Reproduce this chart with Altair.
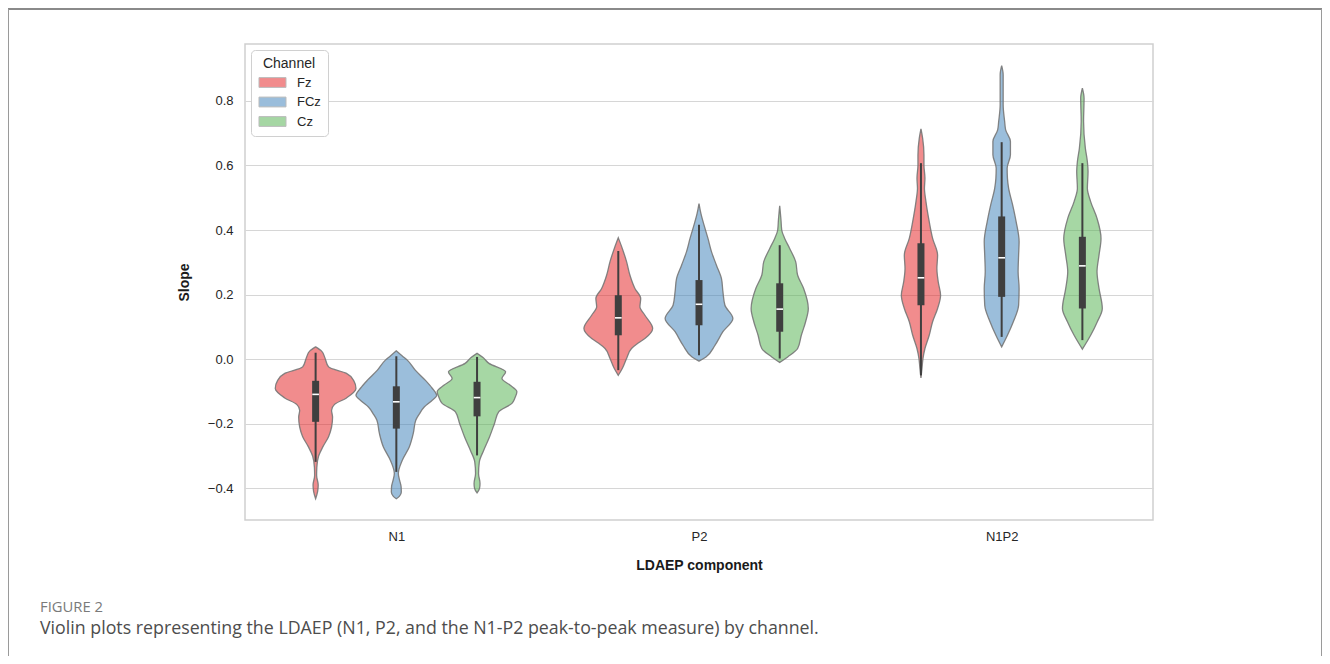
import altair as alt
import pandas as pd

COMPONENTS = ["N1", "P2", "N1P2"]
CHANNELS = ["Fz", "FCz", "Cz"]
COLORS = ["#e41a1c", "#377eb8", "#4daf4a"]

# Violin density profiles (slope value, relative density)
N1_FZ_Y = [0.038, 0.025, 0.007, -0.024, -0.044, -0.065, -0.091, -0.120, -0.140, -0.158,
           -0.180, -0.210, -0.240, -0.270, -0.300, -0.335, -0.360, -0.390, -0.410, -0.432]
N1_FZ_W = [0, 6, 9, 13, 31, 38, 40.5, 31, 19, 16, 17, 16, 13, 7.5, 3, 1.2, 1.0, 2.6, 2.0, 0]

N1_FCZ_Y = [0.026, 0.010, -0.003, -0.034, -0.065, -0.090, -0.112, -0.130, -0.148, -0.170,
            -0.189, -0.230, -0.272, -0.313, -0.354, -0.375, -0.395, -0.411, -0.425, -0.432]
N1_FCZ_W = [0, 6, 11, 19, 29, 36, 40.5, 35, 28, 23, 19.5, 17, 13, 6, 2, 3.3, 4.8, 5, 3, 0]

N1_CZ_Y = [0.018, 0.005, -0.013, -0.039, -0.060, -0.080, -0.101, -0.120, -0.137, -0.163,
           -0.199, -0.241, -0.282, -0.318, -0.354, -0.385, -0.400, -0.414]
N1_CZ_W = [0, 6, 12, 28.7, 25, 33, 40, 38, 35, 21.7, 17.5, 12.5, 6.7, 2.3, 1.5, 3, 2.5, 0]

P2_FZ_Y = [0.376, 0.343, 0.302, 0.260, 0.219, 0.188, 0.162, 0.136, 0.095, 0.064, 0.050,
           0.033, 0.002, -0.029, -0.050]
P2_FZ_W = [0, 4, 8.3, 11.7, 16.7, 22.5, 21.7, 26.7, 34.5, 26.7, 20, 13.3, 8.3, 4, 0]

P2_FCZ_Y = [0.482, 0.450, 0.416, 0.374, 0.333, 0.291, 0.250, 0.209, 0.167, 0.126, 0.085,
            0.043, 0.007, -0.006]
P2_FCZ_W = [0, 2, 5, 9, 12.5, 17.5, 22.5, 24, 26, 34, 24, 16, 7, 0]

P2_CZ_Y = [0.475, 0.430, 0.400, 0.374, 0.343, 0.302, 0.260, 0.219, 0.157, 0.116, 0.074,
           0.033, 0.007, -0.010]
P2_CZ_W = [0, 1.3, 2, 5, 10, 16, 18, 24, 28.7, 26, 21.7, 18, 8, 0]

N1P2_FZ_Y = [0.713, 0.684, 0.633, 0.602, 0.560, 0.529, 0.488, 0.426, 0.374, 0.322, 0.281,
             0.240, 0.198, 0.157, 0.116, 0.074, 0.033, 0.002, -0.029, -0.058]
N1P2_FZ_W = [0, 1.7, 3, 3, 4, 3.5, 5, 8.3, 11.7, 16.7, 16, 17.3, 19.7, 16.7, 11.7, 8.3, 4, 2, 1, 0]

N1P2_FCZ_Y = [0.909, 0.881, 0.788, 0.736, 0.710, 0.674, 0.633, 0.591, 0.560, 0.529, 0.478,
              0.426, 0.364, 0.322, 0.271, 0.219, 0.167, 0.116, 0.074, 0.038]
N1P2_FCZ_W = [0, 1.5, 1.5, 3, 4, 8.8, 8.8, 5.5, 5.8, 7, 11, 14.5, 17.5, 17, 16.5, 17.5, 17,
              11.7, 5.8, 0]

N1P2_CZ_Y = [0.839, 0.808, 0.736, 0.653, 0.612, 0.581, 0.529, 0.488, 0.436, 0.374, 0.322,
             0.271, 0.219, 0.157, 0.116, 0.074, 0.031]
N1P2_CZ_W = [0, 1.7, 1.2, 3, 5, 5.7, 5, 8.3, 14.7, 18.7, 16.7, 14.7, 16.7, 20, 15, 8.3, 0]

PROFILES = {
    ("N1", "Fz"): (N1_FZ_Y, N1_FZ_W),
    ("N1", "FCz"): (N1_FCZ_Y, N1_FCZ_W),
    ("N1", "Cz"): (N1_CZ_Y, N1_CZ_W),
    ("P2", "Fz"): (P2_FZ_Y, P2_FZ_W),
    ("P2", "FCz"): (P2_FCZ_Y, P2_FCZ_W),
    ("P2", "Cz"): (P2_CZ_Y, P2_CZ_W),
    ("N1P2", "Fz"): (N1P2_FZ_Y, N1P2_FZ_W),
    ("N1P2", "FCz"): (N1P2_FCZ_Y, N1P2_FCZ_W),
    ("N1P2", "Cz"): (N1P2_CZ_Y, N1P2_CZ_W),
}

# Inner box statistics
BOX_COMPONENT = ["N1", "N1", "N1", "P2", "P2", "P2", "N1P2", "N1P2", "N1P2"]
BOX_CHANNEL = ["Fz", "FCz", "Cz"] * 3
WHISK_LO = [-0.318, -0.349, -0.298, -0.034, 0.012, 0.002, -0.050, 0.069, 0.059]
Q1 = [-0.194, -0.215, -0.177, 0.074, 0.105, 0.085, 0.167, 0.193, 0.157]
MEDIAN = [-0.109, -0.132, -0.119, 0.128, 0.170, 0.155, 0.252, 0.314, 0.289]
Q3 = [-0.067, -0.084, -0.070, 0.198, 0.245, 0.235, 0.359, 0.442, 0.379]
WHISK_HI = [0.020, 0.009, 0.007, 0.335, 0.416, 0.353, 0.607, 0.672, 0.607]

CAPTION_HEAD = "FIGURE 2"
CAPTION_TEXT = "Violin plots representing the LDAEP (N1, P2, and the N1-P2 peak-to-peak measure) by channel."

DODGE = 0.8 / 3


def center_of(comp, ch):
    return COMPONENTS.index(comp) + (CHANNELS.index(ch) - 1) * DODGE


max_w = max(max(w) for _, w in PROFILES.values())
rows = []
for (comp, ch), (ys, ws) in PROFILES.items():
    c = center_of(comp, ch)
    for k, (y, w) in enumerate(zip(ys, ws)):
        hw = w / max_w * DODGE / 2
        rows.append({"vid": comp + "-" + ch, "channel": ch, "slope": y, "k": k,
                     "xlo": c - hw, "xhi": c + hw})
vdf = pd.DataFrame(rows)

bdf = pd.DataFrame({"component": BOX_COMPONENT, "channel": BOX_CHANNEL,
                    "wlo": WHISK_LO, "q1": Q1, "median": MEDIAN, "q3": Q3, "whi": WHISK_HI})
bdf["center"] = [center_of(a, b) for a, b in zip(BOX_COMPONENT, BOX_CHANNEL)]
bdf["mlo"] = bdf["center"] - 0.011
bdf["mhi"] = bdf["center"] + 0.011

xscale = alt.Scale(domain=[-0.5, 2.5], nice=False, zero=False)
yscale = alt.Scale(domain=[-0.498, 0.976], nice=False, zero=False)
label_expr = "datum.value == 0 ? 'N1' : datum.value == 1 ? 'P2' : 'N1P2'"
xaxis = alt.Axis(values=[0, 1, 2], labelExpr=label_expr, grid=False, ticks=False, tickSize=0,
                 domain=False, labelPadding=10, titlePadding=15, title="LDAEP component")
yaxis = alt.Axis(values=[-0.4, -0.2, 0.0, 0.2, 0.4, 0.6, 0.8], format=".1f", grid=True,
                 ticks=False, tickSize=0, domain=False, labelPadding=12, titlePadding=16,
                 title="Slope")

violins = alt.Chart(vdf).mark_area(
    orient="horizontal", interpolate="monotone", fillOpacity=0.5,
    stroke="#777777", strokeWidth=1.3, strokeOpacity=0.9
).encode(
    y=alt.Y("slope:Q", scale=yscale, axis=yaxis),
    x=alt.X("xlo:Q", scale=xscale, axis=xaxis, stack=None),
    x2="xhi:Q",
    color=alt.Color("channel:N", scale=alt.Scale(domain=CHANNELS, range=COLORS),
                    legend=alt.Legend(title="Channel", orient="none", legendX=6, legendY=6)),
    detail="vid:N",
)

whisk = alt.Chart(bdf).mark_rule(color="#3f3f3f", strokeWidth=2).encode(
    x=alt.X("center:Q", scale=xscale, axis=xaxis),
    y=alt.Y("wlo:Q", scale=yscale, axis=yaxis),
    y2="whi:Q",
)
iqr = alt.Chart(bdf).mark_rule(color="#3f3f3f", strokeWidth=7).encode(
    x=alt.X("center:Q", scale=xscale, axis=xaxis),
    y=alt.Y("q1:Q", scale=yscale, axis=yaxis),
    y2="q3:Q",
)
med = alt.Chart(bdf).mark_rule(color="white", strokeWidth=1.6).encode(
    x=alt.X("mlo:Q", scale=xscale, axis=xaxis),
    x2="mhi:Q",
    y=alt.Y("median:Q", scale=yscale, axis=yaxis),
)

cap = pd.DataFrame({"t": [CAPTION_TEXT]})
head = pd.DataFrame({"t": [CAPTION_HEAD]})
cap_head = alt.Chart(head).mark_text(align="left", baseline="middle", font="Open Sans",
                                     fontSize=14.8, color="#7a7a7a").encode(
    x=alt.value(-205), y=alt.value(563.5), text="t:N")
cap_body = alt.Chart(cap).mark_text(align="left", baseline="middle", font="Open Sans",
                                    fontSize=17.8, color="#4d4d4d").encode(
    x=alt.value(-205), y=alt.value(585), text="t:N")

border_top = alt.Chart(head).mark_rule(color="#8a8a8a", strokeWidth=2).encode(
    x=alt.value(-237), x2=alt.value(1077), y=alt.value(-35))
border_left = alt.Chart(head).mark_rule(color="#9a9a9a", strokeWidth=1).encode(
    x=alt.value(-236.5), y=alt.value(-35), y2=alt.value(612))
border_right = alt.Chart(head).mark_rule(color="#9a9a9a", strokeWidth=1).encode(
    x=alt.value(1076.5), y=alt.value(-35), y2=alt.value(612))

chart = alt.layer(
    violins, whisk, iqr, med, cap_head, cap_body, border_top, border_left, border_right
).properties(
    width=908, height=476,
    autosize=alt.AutoSizeParams(type="none"),
    padding={"left": 237, "top": 36, "right": 169, "bottom": 136},
).configure_view(
    stroke="#cfcfcf", strokeWidth=1.5
).configure_axis(
    labelFont="Liberation Sans", labelFontSize=13, labelColor="#262626",
    titleFont="Liberation Sans", titleFontSize=14, titleFontWeight="bold", titleColor="#1a1a1a",
    gridColor="#d6d6d6", gridWidth=1.2,
).configure_legend(
    titleFont="Liberation Sans", titleFontSize=14, titleFontWeight="normal", titleColor="#262626",
    titleAnchor="middle",
    labelFont="Liberation Sans", labelFontSize=13, labelColor="#262626",
    strokeColor="#d0d0d0", cornerRadius=4, fillColor="white", padding=7,
    symbolType="M-1.93,-0.7L1.93,-0.7L1.93,0.7L-1.93,0.7Z", symbolSize=196,
    symbolOpacity=0.5, symbolStrokeColor="#7a7a7a", symbolStrokeWidth=1,
    symbolOffset=7, rowPadding=4.5, labelOffset=17, titlePadding=4,
)

chart.save("out.html", embed_options={"renderer": "svg", "actions": False})
